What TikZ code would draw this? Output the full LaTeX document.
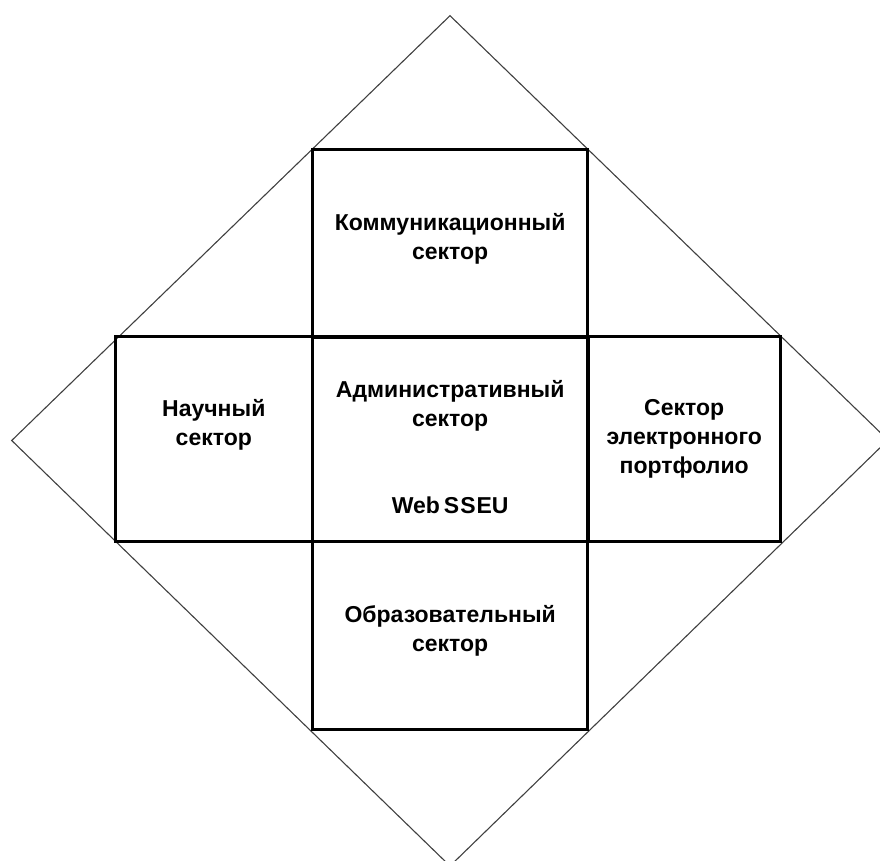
\documentclass[tikz,border=0pt]{standalone}
\usepackage{fontspec}
\setmainfont{Liberation Sans}
\usetikzlibrary{positioning}
\tikzset{
  sector/.style={rectangle, draw, line width=3pt, inner sep=0pt},
  label text/.style={align=center, font=\bfseries\fontsize{23}{29}\selectfont, inner sep=0pt},
}

\begin{document}
\begin{tikzpicture}[x=1pt, y=-1pt, line join=miter]
        \useasboundingbox (0,0) rectangle (880,861);
        % outer diamond
        \coordinate (t) at (450,15.7);
        \coordinate (l) at (11.7,440.5);
        \coordinate (b) at (450,866);
        \coordinate (r) at (888,440);
        \draw[black!75, line width=1.1pt] (t) -- (l) -- (b) -- (r) -- cycle;
        % sectors
        \node[sector, minimum width=275pt, minimum height=204.5pt] (adm) at (450.2,439.2) {};
        \node[sector, minimum width=275pt, minimum height=187pt] (komm) at (450.2,243.5) {};
        \node[sector, minimum width=275pt, minimum height=188.5pt] (obr) at (450.2,635.7) {};
        \node[sector, minimum width=197.5pt, minimum height=204.5pt] (nauch) at (213.8,439.2) {};
        \node[sector, minimum width=191.7pt, minimum height=204.5pt] (portf) at (684.2,439.2) {};
        % texts
        \node[label text, yshift=5pt] (komm-txt) at (komm) {Коммуникационный\\сектор};
        \node[label text, yshift=14.5pt] (nauch-txt) at (nauch) {Научный\\сектор};
        \node[label text, yshift=33pt] (adm-txt) at (adm) {Административный\\сектор};
        \node[label text, yshift=-66pt] (web-txt) at (adm) {Web\kern4ptS\kern1ptS\kern1ptEU};
        \node[label text] (portf-txt) at (portf) {Сектор\\электронного\\портфолио};
        \node[label text, yshift=5pt] (obr-txt) at (obr) {Образовательный\\сектор};
\end{tikzpicture}
\end{document}
